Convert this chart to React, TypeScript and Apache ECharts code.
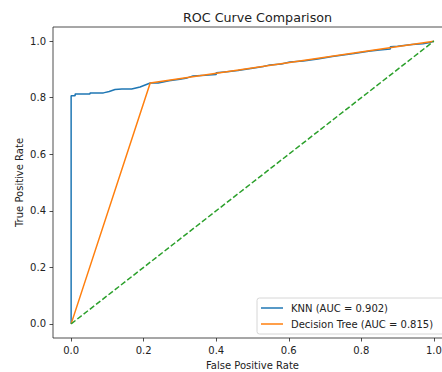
import React, { useEffect, useRef } from "react";
import * as echarts from "echarts";

const knnFpr = [0, 0, 0.011, 0.011, 0.052, 0.052, 0.089, 0.089, 0.105, 0.121, 0.14, 0.167, 0.19, 0.218, 0.24, 0.27, 0.3, 0.32, 0.336, 0.37, 0.4, 0.4, 0.43, 0.46, 0.5, 0.53, 0.548, 0.58, 0.603, 0.64, 0.68, 0.72, 0.75, 0.78, 0.82, 0.85, 0.88, 0.88, 0.9, 0.94, 0.97, 0.99, 1.0];
const knnTpr = [0, 0.807, 0.807, 0.813, 0.813, 0.817, 0.817, 0.819, 0.822, 0.829, 0.831, 0.831, 0.838, 0.852, 0.852, 0.86, 0.865, 0.87, 0.877, 0.879, 0.882, 0.888, 0.892, 0.896, 0.904, 0.91, 0.916, 0.919, 0.926, 0.93, 0.937, 0.946, 0.951, 0.956, 0.964, 0.969, 0.972, 0.98, 0.982, 0.988, 0.991, 0.995, 1.0];
const dtFpr = [0, 0.218, 1.0];
const dtTpr = [0, 0.852, 1.0];
const diagFpr = [0, 1];
const diagTpr = [0, 1];
const tickValues = [0, 0.2, 0.4, 0.6, 0.8, 1.0];
const knnName = "KNN (AUC = 0.902)";
const dtName = "Decision Tree (AUC = 0.815)";

const zip = (a: number[], b: number[]) => a.map((v, i) => [v, b[i]]);

export default function App() {
  const ref = useRef<HTMLDivElement>(null);
  useEffect(() => {
    if (!ref.current) return;
    const chart = echarts.init(ref.current, null, { renderer: "svg" });
    const font = "DejaVu Sans";
    const axisCommon = {
      type: "value" as const,
      min: -0.05,
      max: 1.05,
      axisLine: { show: false, onZero: false },
      splitLine: { show: false },
      axisTick: {
        show: true,
        inside: false,
        length: 3.5,
        customValues: tickValues,
        lineStyle: { color: "#222", width: 0.8 },
      },
      axisLabel: {
        customValues: tickValues,
        formatter: (v: number) => v.toFixed(1),
        color: "#222",
        fontFamily: font,
        fontSize: 10,
        margin: 7,
      },
      nameLocation: "middle" as const,
      nameMoveOverlap: false,
      nameTextStyle: { color: "#222", fontFamily: font, fontSize: 10 },
    };
    chart.setOption({
      animation: false,
      backgroundColor: "#fff",
      title: {
        text: "ROC Curve Comparison",
        left: 252.5,
        textAlign: "center",
        top: 6,
        textStyle: { color: "#222", fontFamily: font, fontSize: 12.7, fontWeight: "normal" },
      },
      grid: {
        left: 53,
        top: 27,
        width: 399,
        height: 311,
        show: true,
        borderColor: "#222",
        borderWidth: 0.8,
        backgroundColor: "transparent",
        containLabel: false,
        outerBoundsMode: "none",
      },
      xAxis: { ...axisCommon, name: "False Positive Rate", nameGap: 22 },
      yAxis: { ...axisCommon, name: "True Positive Rate", nameGap: 29 },
      legend: {
        orient: "vertical",
        left: 257,
        top: 298,
        width: 190,
        padding: [3, 40, 3, 4],
        itemGap: 2,
        itemWidth: 22,
        itemHeight: 1.5,
        icon: "rect",
        borderColor: "#ccc",
        borderWidth: 0.8,
        borderRadius: 2.5,
        backgroundColor: "rgba(255,255,255,0.8)",
        textStyle: { color: "#222", fontFamily: font, fontSize: 10, lineHeight: 14, padding: [0, 0, 0, 3] },
        data: [knnName, dtName],
      },
      series: [
        {
          name: knnName,
          type: "line",
          data: zip(knnFpr, knnTpr),
          showSymbol: false,
          symbol: "none",
          lineStyle: { color: "#1f77b4", width: 1.5 },
          itemStyle: { color: "#1f77b4" },
          z: 2,
        },
        {
          name: dtName,
          type: "line",
          data: zip(dtFpr, dtTpr),
          showSymbol: false,
          symbol: "none",
          lineStyle: { color: "#ff7f0e", width: 1.5 },
          itemStyle: { color: "#ff7f0e" },
          z: 3,
        },
        {
          name: "diagonal",
          type: "line",
          data: zip(diagFpr, diagTpr),
          showSymbol: false,
          symbol: "none",
          lineStyle: { color: "#2ca02c", width: 1.5, type: [5.5, 2.4] },
          itemStyle: { color: "#2ca02c" },
          z: 4,
        },
      ],
    });
    return () => chart.dispose();
  }, []);
  return (
    <div
      ref={ref}
      style={{ position: "absolute", left: 0, top: 0, width: 442, height: 372 }}
    />
  );
}
